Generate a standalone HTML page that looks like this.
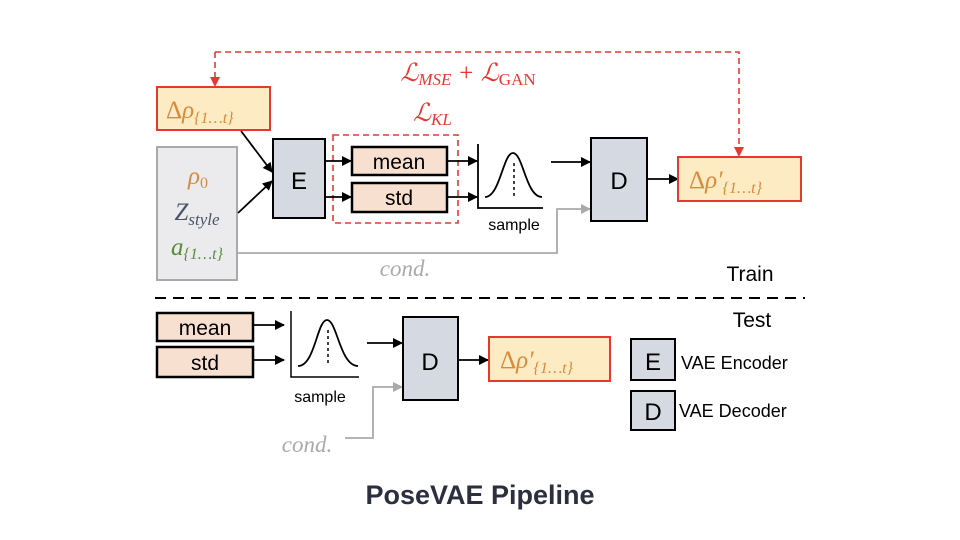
<!DOCTYPE html>
<html><head><meta charset="utf-8"><style>
html,body{margin:0;padding:0;background:#fff;}
svg{display:block;}
.s{font-family:"Liberation Sans","DejaVu Sans",sans-serif;}
.m{font-family:"Liberation Serif","DejaVu Serif",serif;font-style:italic;}
</style></head><body>
<svg width="960" height="540" viewBox="0 0 960 540" xmlns="http://www.w3.org/2000/svg">
<defs>
<marker id="ab" markerWidth="10" markerHeight="10" refX="9" refY="5" orient="auto" markerUnits="userSpaceOnUse"><path d="M0,0 L10,5 L0,10 z" fill="#000"/></marker>
<marker id="ag" markerWidth="10" markerHeight="10" refX="9" refY="5" orient="auto" markerUnits="userSpaceOnUse"><path d="M0,0 L10,5 L0,10 z" fill="#aaa"/></marker>
<marker id="ar" markerWidth="10" markerHeight="10" refX="8" refY="5" orient="auto" markerUnits="userSpaceOnUse"><path d="M0,0 L10,5 L0,10 z" fill="#e5392f"/></marker>
</defs>
<polyline points="215,52 739,52 739,155" fill="none" stroke="#e5392f" stroke-width="1.6" stroke-dasharray="6,4" marker-end="url(#ar)"/>
<line x1="215" y1="52" x2="215" y2="85" stroke="#e5392f" stroke-width="1.6" stroke-dasharray="6,4" marker-end="url(#ar)"/>
<text x="468" y="81" class="m" font-size="25" fill="#e5392f" text-anchor="middle">ℒ<tspan font-size="17" dy="4">MSE</tspan><tspan dy="-4"> + ℒ</tspan><tspan font-size="17" dy="4" font-style="normal">GAN</tspan></text>
<rect x="157" y="87" width="113" height="43" fill="#fdebc3" stroke="#e5392f" stroke-width="2"/>
<text x="166" y="118" class="m" font-size="25" fill="#d98a3a"><tspan font-style="normal">Δ</tspan>ρ<tspan font-size="16" dy="5">{1…t}</tspan></text>
<rect x="157" y="147" width="80" height="133" fill="#ebebee" stroke="#aaa" stroke-width="2"/>
<text x="198" y="184" class="m" font-size="25" fill="#d98a3a" text-anchor="middle">ρ<tspan font-size="16" dy="4" font-style="normal">0</tspan></text>
<text x="197" y="220" class="m" font-size="25" fill="#4a5468" text-anchor="middle">Z<tspan font-size="17" dy="5">style</tspan></text>
<text x="197" y="255" class="m" font-size="25" fill="#5a8a3a" text-anchor="middle">a<tspan font-size="16" dy="4">{1…t}</tspan></text>
<line x1="241" y1="131" x2="272" y2="172" stroke="#000" stroke-width="1.8" marker-end="url(#ab)"/>
<line x1="238" y1="213" x2="272" y2="181" stroke="#000" stroke-width="1.8" marker-end="url(#ab)"/>
<rect x="273" y="139" width="52" height="79" fill="#d5d9e2" stroke="#000" stroke-width="2"/>
<text x="299" y="189" class="s" font-size="24" text-anchor="middle">E</text>
<rect x="333" y="135" width="125" height="88" fill="none" stroke="#e5392f" stroke-width="1.6" stroke-dasharray="6,4"/>
<text x="413" y="121" class="m" font-size="25" fill="#e5392f">ℒ<tspan font-size="17" dy="4">KL</tspan></text>
<line x1="325" y1="161" x2="351" y2="161" stroke="#000" stroke-width="1.8" marker-end="url(#ab)"/>
<line x1="325" y1="197" x2="351" y2="197" stroke="#000" stroke-width="1.8" marker-end="url(#ab)"/>
<rect x="352" y="147" width="95" height="28" fill="#f8e0d0" stroke="#000" stroke-width="2.5"/>
<text x="399" y="169" class="s" font-size="21" text-anchor="middle">mean</text>
<rect x="352" y="183" width="95" height="29" fill="#f8e0d0" stroke="#000" stroke-width="2.5"/>
<text x="399" y="205" class="s" font-size="21" text-anchor="middle">std</text>
<line x1="447" y1="161" x2="477" y2="161" stroke="#000" stroke-width="1.8" marker-end="url(#ab)"/>
<line x1="447" y1="197" x2="477" y2="197" stroke="#000" stroke-width="1.8" marker-end="url(#ab)"/>
<polyline points="478,144 478,208 543,208" fill="none" stroke="#000" stroke-width="1.8"/>
<path d="M485,197 C500,197 503,153 513,153 C523,153 526,197 542,197" fill="none" stroke="#000" stroke-width="1.8"/>
<line x1="514" y1="163" x2="514" y2="196" stroke="#000" stroke-width="1.5" stroke-dasharray="3,3"/>
<text x="514" y="230" class="s" font-size="16" text-anchor="middle">sample</text>
<line x1="551" y1="162" x2="590" y2="162" stroke="#000" stroke-width="1.8" marker-end="url(#ab)"/>
<polyline points="238,253 557,253 557,209 590,209" fill="none" stroke="#aaa" stroke-width="1.8" marker-end="url(#ag)"/>
<text x="405" y="276" class="m" font-size="23" fill="#aaa" text-anchor="middle">cond.</text>
<rect x="591" y="138" width="56" height="83" fill="#d5d9e2" stroke="#000" stroke-width="2"/>
<text x="619" y="189" class="s" font-size="24" text-anchor="middle">D</text>
<line x1="648" y1="179" x2="678" y2="179" stroke="#000" stroke-width="1.8" marker-end="url(#ab)"/>
<rect x="678" y="157" width="123" height="44" fill="#fdebc3" stroke="#e5392f" stroke-width="2"/>
<text x="689" y="188" class="m" font-size="25" fill="#d98a3a"><tspan font-style="normal">Δ</tspan>ρ′<tspan font-size="16" dy="5">{1…t}</tspan></text>
<text x="750" y="281" class="s" font-size="21" text-anchor="middle">Train</text>
<line x1="155" y1="298" x2="805" y2="298" stroke="#000" stroke-width="2" stroke-dasharray="11,7"/>
<text x="752" y="327" class="s" font-size="21" text-anchor="middle">Test</text>
<rect x="157" y="313" width="96" height="28" fill="#f8e0d0" stroke="#000" stroke-width="2.5"/>
<text x="205" y="335" class="s" font-size="21" text-anchor="middle">mean</text>
<rect x="157" y="347" width="96" height="30" fill="#f8e0d0" stroke="#000" stroke-width="2.5"/>
<text x="205" y="370" class="s" font-size="21" text-anchor="middle">std</text>
<line x1="254" y1="325" x2="284" y2="325" stroke="#000" stroke-width="1.8" marker-end="url(#ab)"/>
<line x1="254" y1="360" x2="284" y2="360" stroke="#000" stroke-width="1.8" marker-end="url(#ab)"/>
<polyline points="291,311 291,377 359,377" fill="none" stroke="#000" stroke-width="1.5"/>
<path d="M298,366 C315,366 317,320 327,320 C337,320 340,366 358,366" fill="none" stroke="#000" stroke-width="1.8"/>
<line x1="328" y1="330" x2="328" y2="365" stroke="#000" stroke-width="1.5" stroke-dasharray="3,3"/>
<text x="320" y="402" class="s" font-size="16" text-anchor="middle">sample</text>
<line x1="367" y1="343" x2="402" y2="343" stroke="#000" stroke-width="1.8" marker-end="url(#ab)"/>
<polyline points="345,438 373,438 373,387 402,387" fill="none" stroke="#aaa" stroke-width="1.8" marker-end="url(#ag)"/>
<text x="307" y="452" class="m" font-size="23" fill="#aaa" text-anchor="middle">cond.</text>
<rect x="403" y="317" width="55" height="83" fill="#d5d9e2" stroke="#000" stroke-width="2"/>
<text x="430" y="370" class="s" font-size="24" text-anchor="middle">D</text>
<line x1="459" y1="360" x2="488" y2="360" stroke="#000" stroke-width="1.8" marker-end="url(#ab)"/>
<rect x="489" y="337" width="121" height="44" fill="#fdebc3" stroke="#e5392f" stroke-width="2"/>
<text x="500" y="368" class="m" font-size="25" fill="#d98a3a"><tspan font-style="normal">Δ</tspan>ρ′<tspan font-size="16" dy="5">{1…t}</tspan></text>
<rect x="631" y="339" width="44" height="41" fill="#d5d9e2" stroke="#000" stroke-width="2"/>
<text x="653" y="370" class="s" font-size="24" text-anchor="middle">E</text>
<text x="681" y="369" class="s" font-size="18">VAE Encoder</text>
<rect x="631" y="391" width="44" height="39" fill="#d5d9e2" stroke="#000" stroke-width="2"/>
<text x="653" y="420" class="s" font-size="24" text-anchor="middle">D</text>
<text x="679" y="417" class="s" font-size="18">VAE Decoder</text>
<text x="480" y="504" class="s" font-size="27" font-weight="bold" fill="#2c2f3e" text-anchor="middle">PoseVAE Pipeline</text>
</svg>
</body></html>
